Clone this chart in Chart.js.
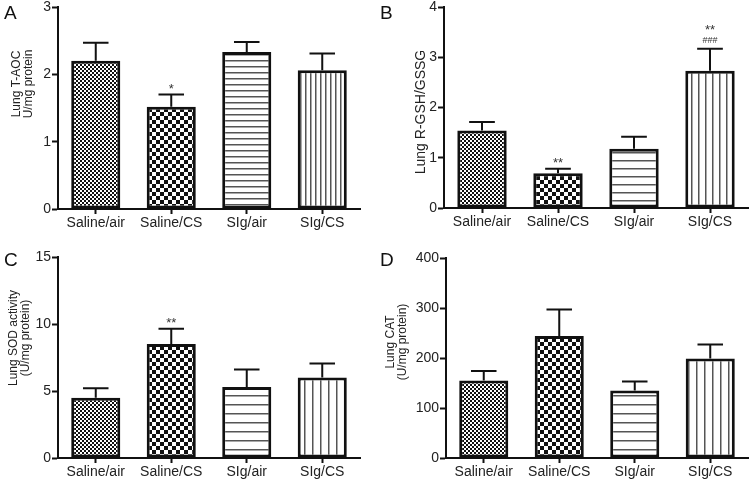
<!DOCTYPE html>
<html>
<head>
<meta charset="utf-8">
<script src="https://cdn.jsdelivr.net/npm/chart.js@4.4.1/dist/chart.umd.min.js"></script>
<style>
  body { margin: 0; background: #fff; font-family: "Liberation Sans", Arial, sans-serif; }
  #wrap { position: relative; width: 752px; height: 484px; }
  .panel { position: absolute; width: 376px; height: 242px; }
  .letter { position: absolute; font-size: 19px; color: #111; line-height: 1; }
</style>
</head>
<body>
<div id="wrap">
  <div class="panel" style="left:0;top:0"><canvas id="chartA" width="376" height="242"></canvas></div>
  <div class="panel" style="left:376px;top:0"><canvas id="chartB" width="376" height="242"></canvas></div>
  <div class="panel" style="left:0;top:242px"><canvas id="chartC" width="376" height="242"></canvas></div>
  <div class="panel" style="left:376px;top:242px"><canvas id="chartD" width="376" height="242"></canvas></div>
  <div class="letter" style="left:4px;top:3px">A</div>
  <div class="letter" style="left:380px;top:3px">B</div>
  <div class="letter" style="left:4px;top:250px">C</div>
  <div class="letter" style="left:380px;top:250px">D</div>
</div>
<script>
const groups = ["Saline/air", "Saline/CS", "SIg/air", "SIg/CS"];

// A - T-AOC
const taocMean = [2.20, 1.52, 2.33, 2.06];
const taocSem = [0.27, 0.18, 0.15, 0.25];
const taocTicks = [0, 1, 2, 3];
const taocStars = ["", "*", "", ""];

// B - R-GSH/GSSG
const gshMean = [1.54, 0.69, 1.18, 2.73];
const gshSem = [0.17, 0.09, 0.24, 0.44];
const gshTicks = [0, 1, 2, 3, 4];
const gshStars = ["", "**", "", "**\n###"];

// C - SOD
const sodMean = [4.5, 8.5, 5.3, 6.0];
const sodSem = [0.7, 1.15, 1.3, 1.05];
const sodTicks = [0, 5, 10, 15];
const sodStars = ["", "**", "", ""];

// D - CAT
const catMean = [155, 244, 135, 199];
const catSem = [19, 53, 18, 28];
const catTicks = [0, 100, 200, 300, 400];
const catStars = ["", "", "", ""];

Chart.defaults.font.family = '"Liberation Sans", Arial, sans-serif';
Chart.defaults.color = "#222";

// fill patterns for the 4 groups
function makePattern(kind, step) {
  const c = document.createElement("canvas");
  const g = c.getContext("2d");
  if (kind === "check") {
    c.width = c.height = step * 2;
    g.fillStyle = "#fff";
    g.fillRect(0, 0, step * 2, step * 2);
    g.fillStyle = "#111";
    g.fillRect(0, 0, step, step);
    g.fillRect(step, step, step, step);
  } else if (kind === "hline") {
    c.width = 4; c.height = step;
    g.fillStyle = "#fff";
    g.fillRect(0, 0, 4, step);
    g.fillStyle = "#555";
    g.fillRect(0, 0, 4, 1.5);
  } else {
    c.width = step; c.height = 4;
    g.fillStyle = "#fff";
    g.fillRect(0, 0, step, 4);
    g.fillStyle = "#555";
    g.fillRect(0, 0, 1.5, 4);
  }
  return c.getContext("2d").createPattern(c, "repeat");
}

// SEM whiskers, significance marks and the y title
const extras = {
  id: "extras",
  afterDatasetsDraw(chart, args, o) {
    const ctx = chart.ctx;
    const y = chart.scales.y;
    const meta = chart.getDatasetMeta(0);
    const mean = chart.data.datasets[0].data;
    ctx.save();
    ctx.strokeStyle = "#111";
    ctx.lineWidth = 2;
    meta.data.forEach((bar, i) => {
      const top = y.getPixelForValue(mean[i] + o.sem[i]);
      const half = bar.width * 0.26;
      ctx.beginPath();
      ctx.moveTo(bar.x, y.getPixelForValue(mean[i]));
      ctx.lineTo(bar.x, top);
      ctx.moveTo(bar.x - half, top);
      ctx.lineTo(bar.x + half, top);
      ctx.stroke();

      const lines = o.stars[i] ? o.stars[i].split("\n").reverse() : [];
      let cy = top - 9;
      ctx.fillStyle = "#333";
      ctx.textAlign = "center";
      ctx.textBaseline = "alphabetic";
      lines.forEach(t => {
        if (t[0] === "#") {
          ctx.font = '9px "Liberation Sans", Arial, sans-serif';
          ctx.fillText(t, bar.x, cy + 3.5);
          cy -= 13;
        } else {
          ctx.font = '13px "Liberation Sans", Arial, sans-serif';
          ctx.fillText(t, bar.x, cy + 7.5);
          cy -= 13;
        }
      });
    });

    ctx.fillStyle = "#222";
    ctx.font = o.titleSize + 'px "Liberation Sans", Arial, sans-serif';
    ctx.textAlign = "center";
    ctx.textBaseline = "middle";
    o.title.forEach((t, k) => {
      ctx.save();
      ctx.translate(o.titleX[k], o.titleY);
      ctx.rotate(-Math.PI / 2);
      ctx.fillText(t, 0, 0);
      ctx.restore();
    });
    ctx.restore();
  }
};

function makeChart(id, mean, sem, ticks, stars, box, title, hStep, vStep) {
  const fills = [
    makePattern("check", 2),
    makePattern("check", 4),
    makePattern("hline", hStep),
    makePattern("vline", vStep)
  ];
  return new Chart(document.getElementById(id), {
    type: "bar",
    data: {
      labels: groups,
      datasets: [{
        data: mean,
        backgroundColor: fills,
        borderColor: "#111",
        borderWidth: 3,
        borderSkipped: false,
        barPercentage: 0.65,
        categoryPercentage: 1
      }]
    },
    options: {
      responsive: false,
      animation: false,
      devicePixelRatio: 1,
      layout: { padding: { left: 0, right: 376 - box.right, top: box.top, bottom: 0 } },
      plugins: {
        legend: { display: false },
        tooltip: { enabled: false },
        extras: { sem: sem, stars: stars, title: title.lines, titleX: title.x, titleY: title.y, titleSize: title.size }
      },
      scales: {
        x: {
          offset: true,
          grid: { drawOnChartArea: false, offset: false, tickLength: 5, tickWidth: 2, tickColor: "#111" },
          border: { color: "#111", width: 2 },
          ticks: { font: { size: 14 }, padding: 1, maxRotation: 0, autoSkip: false },
          afterFit(s) { s.height = 242 - box.bottom; s.paddingLeft = 0; s.paddingRight = 0; }
        },
        y: {
          min: ticks[0],
          max: ticks[ticks.length - 1],
          afterBuildTicks(s) { s.ticks = ticks.map(v => ({ value: v })); },
          grid: { drawOnChartArea: false, tickLength: 6, tickWidth: 2, tickColor: "#111" },
          border: { color: "#111", width: 2 },
          ticks: { font: { size: 14 }, padding: 1 },
          afterFit(s) { s.width = box.left; s.paddingTop = 0; s.paddingBottom = 0; }
        }
      }
    },
    plugins: [extras]
  });
}

makeChart("chartA", taocMean, taocSem, taocTicks, taocStars,
  { left: 58, right: 360, top: 7, bottom: 209 },
  { lines: ["Lung T-AOC", "U/mg protein"], x: [17, 29], y: 84, size: 12 }, 6, 5);
makeChart("chartB", gshMean, gshSem, gshTicks, gshStars,
  { left: 68, right: 372, top: 7, bottom: 208 },
  { lines: ["Lung R-GSH/GSSG"], x: [45], y: 112, size: 14 }, 8, 7);
makeChart("chartC", sodMean, sodSem, sodTicks, sodStars,
  { left: 58, right: 360, top: 15, bottom: 216 },
  { lines: ["Lung SOD activity", "(U/mg protein)"], x: [14, 26], y: 96, size: 12 }, 9, 8);
makeChart("chartD", catMean, catSem, catTicks, catStars,
  { left: 70, right: 372, top: 16, bottom: 216 },
  { lines: ["Lung CAT", "(U/mg protein)"], x: [15, 27], y: 100, size: 12 }, 9, 8);
</script>
</body>
</html>
